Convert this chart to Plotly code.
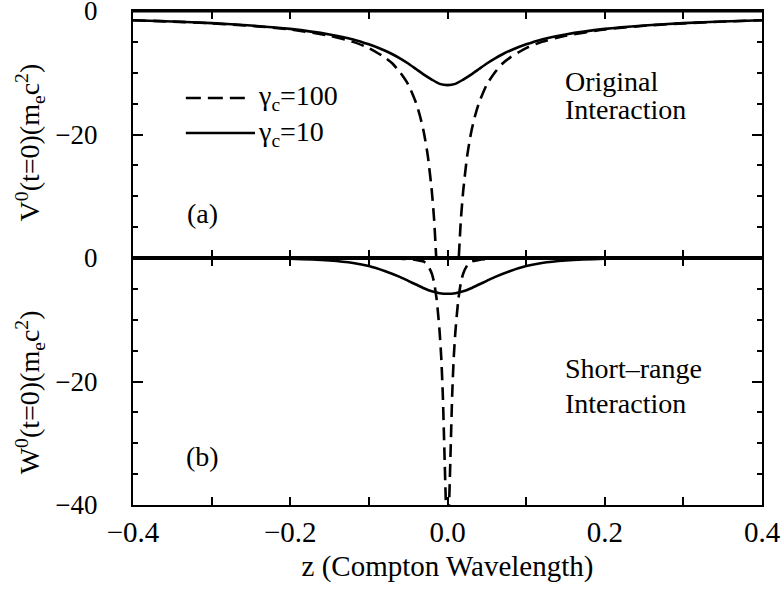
import plotly.graph_objects as go
from plotly.subplots import make_subplots

# ---- data (z >= 0 half; curves are symmetric in z) ----
z_v10 = [0.0, 0.01, 0.02, 0.03, 0.04, 0.05, 0.06, 0.07, 0.08, 0.10, 0.12, 0.15, 0.20, 0.25, 0.30, 0.35, 0.40]
v_g10 = [-12.0, -11.8, -11.1, -10.3, -9.4, -8.5, -7.7, -7.0, -6.4, -5.4, -4.6, -3.8, -2.9, -2.35, -1.97, -1.7, -1.5]

z_v100 = [0.0, 0.005, 0.01, 0.012, 0.015, 0.017, 0.02, 0.025, 0.03, 0.035, 0.04, 0.05, 0.06, 0.07, 0.08, 0.10, 0.12, 0.15, 0.20, 0.25, 0.30, 0.35, 0.40]
v_g100 = [-120.0, -85.0, -54.0, -46.0, -38.4, -33.8, -29.1, -23.5, -19.7, -17.0, -14.9, -11.9, -10.0, -8.5, -7.5, -6.0, -5.0, -4.0, -3.0, -2.4, -2.0, -1.71, -1.5]

z_w10 = [0.0, 0.01, 0.02, 0.03, 0.04, 0.05, 0.06, 0.08, 0.10, 0.12, 0.15, 0.20, 0.25, 0.30, 0.40]
w_g10 = [-5.8, -5.7, -5.4, -4.9, -4.3, -3.7, -3.1, -2.1, -1.3, -0.8, -0.4, -0.1, -0.03, 0.0, 0.0]

z_w100 = [0.0, 0.002, 0.004, 0.006, 0.008, 0.010, 0.012, 0.014, 0.017, 0.020, 0.025, 0.030, 0.040, 0.060, 0.10, 0.20, 0.40]
w_g100 = [-46.0, -40.0, -31.0, -22.0, -16.0, -12.0, -9.0, -6.5, -4.0, -2.5, -1.2, -0.6, -0.3, -0.1, -0.02, 0.0, 0.0]

x_ticks = [-0.4, -0.3, -0.2, -0.1, 0.0, 0.1, 0.2, 0.3, 0.4]
x_ticktext = ["\u22120.4", "", "\u22120.2", "", "0.0", "", "0.2", "", "0.4"]
top_yticks = [-20, 0]
top_ytext = ["\u221220", "0"]
bot_yticks = [-40, -20, 0]
bot_ytext = ["\u221240", "\u221220", "0"]

legend_labels = ["\u03b3<sub>c</sub>=100", "\u03b3<sub>c</sub>=10"]


def mirror(zs, vs):
    zz = [-z for z in zs[::-1]] + zs[1:]
    vv = vs[::-1] + vs[1:]
    return zz, vv


FONT = "Liberation Serif, serif"
FS = 29
YFS = 27
AFS = 28
LW = 2.6
DASH = "13px,7px"

fig = make_subplots(rows=2, cols=1, shared_xaxes=True, vertical_spacing=0)

zz, vv = mirror(z_v100, v_g100)
fig.add_trace(go.Scatter(x=zz, y=vv, mode="lines", line=dict(color="black", width=LW, dash=DASH, shape="spline", smoothing=0.6), showlegend=False), row=1, col=1)
zz, vv = mirror(z_v10, v_g10)
fig.add_trace(go.Scatter(x=zz, y=vv, mode="lines", line=dict(color="black", width=LW, shape="spline", smoothing=0.6), showlegend=False), row=1, col=1)
zz, vv = mirror(z_w100, w_g100)
fig.add_trace(go.Scatter(x=zz, y=vv, mode="lines", line=dict(color="black", width=LW, dash=DASH, shape="spline", smoothing=0.6), showlegend=False), row=2, col=1)
zz, vv = mirror(z_w10, w_g10)
fig.add_trace(go.Scatter(x=zz, y=vv, mode="lines", line=dict(color="black", width=LW, shape="spline", smoothing=0.6), showlegend=False), row=2, col=1)

xcommon = dict(range=[-0.4, 0.4], showline=True, linewidth=2, linecolor="black", mirror="allticks",
               ticks="inside", ticklen=8, tickwidth=1.5, tickcolor="black",
               tickvals=x_ticks, ticktext=x_ticktext, automargin=False, ticklabeloverflow="allow",
               showgrid=False, zeroline=False, tickfont=dict(family=FONT, size=FS, color="black"))
fig.update_xaxes(**xcommon)
fig.update_xaxes(showticklabels=False, row=1, col=1)
fig.update_xaxes(showticklabels=True, ticklabelstandoff=0,
                 title=dict(text="z (Compton Wavelength)", font=dict(family=FONT, size=FS, color="black"), standoff=9),
                 row=2, col=1)

ycommon = dict(range=[-40, 0], showline=True, linewidth=2, linecolor="black", mirror="allticks",
               ticks="inside", ticklen=10, tickwidth=1.5, tickcolor="black", automargin=False,
               ticklabeloverflow="allow",
               minor=dict(tickvals=[-35, -30, -25, -15, -10, -5], ticks="inside", ticklen=5, tickwidth=1.5, tickcolor="black"),
               showgrid=False, zeroline=False, ticklabelstandoff=28,
               tickfont=dict(family=FONT, size=YFS, color="black"))
fig.update_yaxes(**ycommon)
fig.update_yaxes(tickvals=top_yticks, ticktext=top_ytext, row=1, col=1)
fig.update_yaxes(tickvals=bot_yticks, ticktext=bot_ytext, row=2, col=1)

af = dict(family=FONT, size=AFS, color="black")
ann = [
    dict(text="V<sup>0</sup>(t=0)(m<sub>e</sub>c<sup>2</sup>)", x=-0.163, y=0.735, textangle=-90),
    dict(text="W<sup>0</sup>(t=0)(m<sub>e</sub>c<sup>2</sup>)", x=-0.163, y=0.229, textangle=-90),
    dict(text="(a)", x=0.11, y=0.591),
    dict(text="(b)", x=0.11, y=0.099),
]
annotations = []
for a in ann:
    annotations.append(dict(xref="paper", yref="paper", showarrow=False, xanchor="center", yanchor="middle", font=af, **a))
for txt, y in [("Original", 0.858), ("Interaction", 0.80), ("Short\u2013range", 0.277), ("Interaction", 0.206)]:
    annotations.append(dict(xref="paper", yref="paper", showarrow=False, xanchor="left", yanchor="middle", font=af, text=txt, x=0.684, y=y))
for txt, y in zip(legend_labels, [0.824, 0.753]):
    annotations.append(dict(xref="paper", yref="paper", showarrow=False, xanchor="left", yanchor="middle", font=af, text=txt, x=0.196, y=y))

shapes = [
    dict(type="line", xref="paper", yref="paper", x0=0.084, x1=0.183, y0=0.824, y1=0.824, line=dict(color="black", width=LW, dash="15px,7px")),
    dict(type="line", xref="paper", yref="paper", x0=0.084, x1=0.194, y0=0.753, y1=0.753, line=dict(color="black", width=LW)),
    # top frame edge of panel (a)
    dict(type="line", xref="paper", yref="paper", x0=0, x1=1, y0=0.999, y1=0.999, layer="above", line=dict(color="black", width=2.2)),
]

fig.update_layout(width=782, height=591, margin=dict(l=133, r=20, t=11, b=86, autoexpand=False),
                  plot_bgcolor="white", paper_bgcolor="white",
                  annotations=annotations, shapes=shapes, showlegend=False,
                  font=dict(family=FONT, size=FS, color="black"))

fig.write_html("out.html", post_script="document.body.style.margin='0';", config={"displayModeBar": False})
